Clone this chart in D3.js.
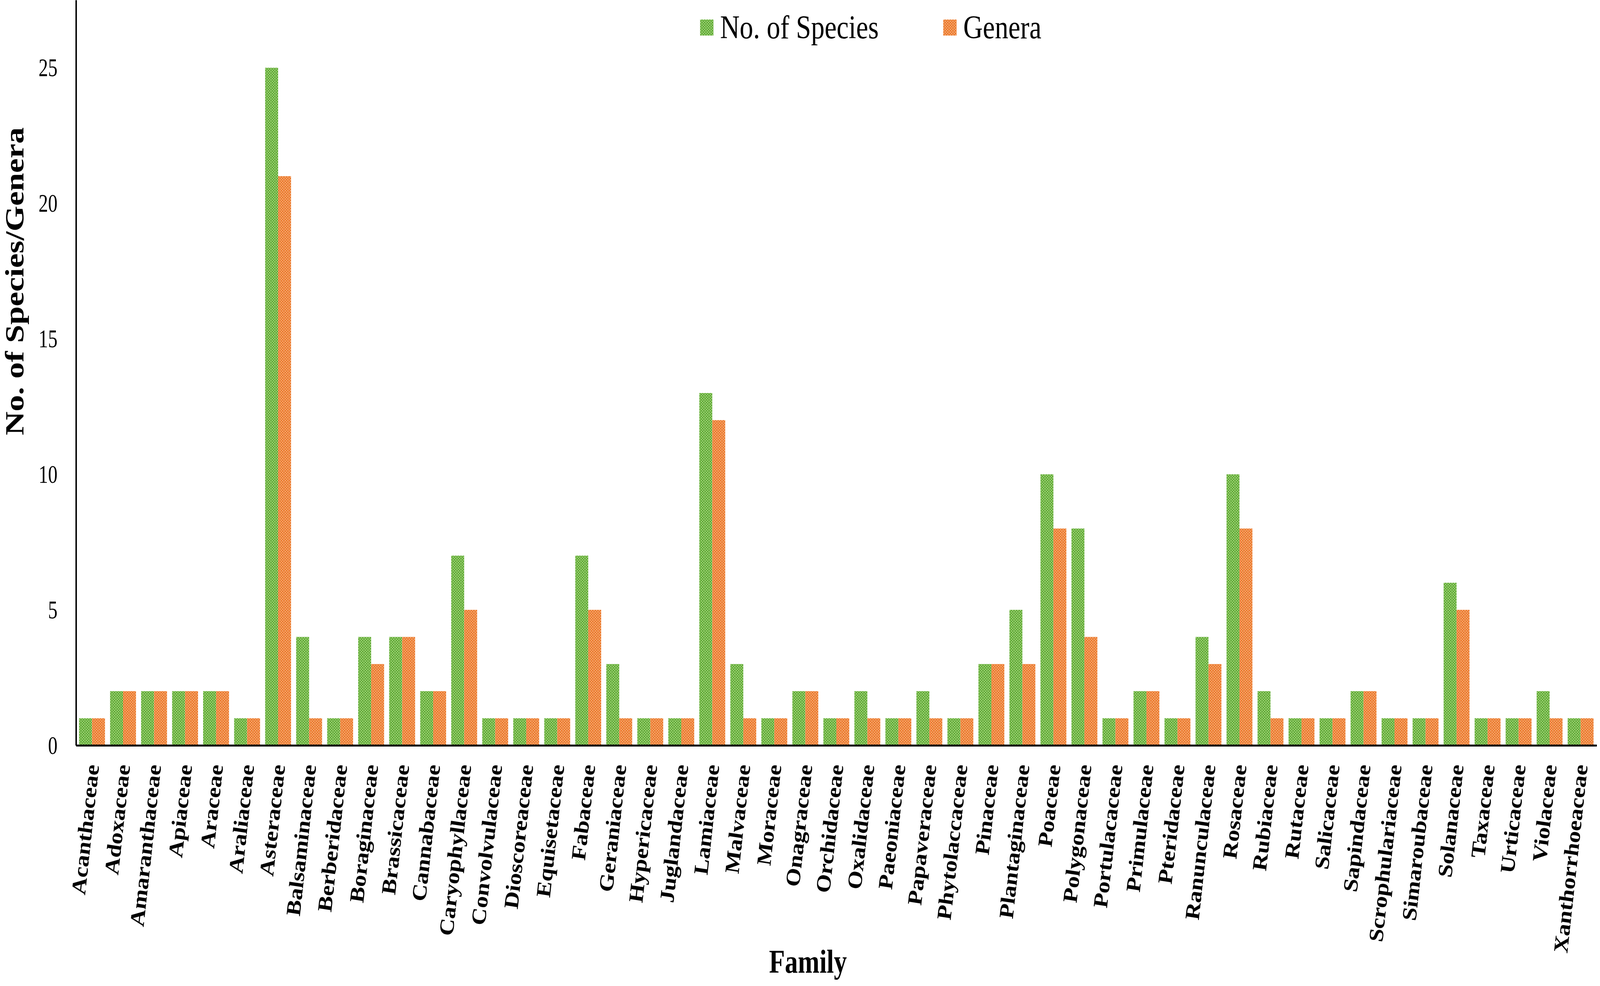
<!DOCTYPE html>
<html>
  <head>
    <meta charset="utf-8">
    <script src="https://d3js.org/d3.v7.min.js"></script>
    <style>
      html, body { margin: 0; padding: 0; background: #fff; overflow: hidden; }
      svg { display: block; }
      text { font-family: "Liberation Serif", "Times New Roman", serif; fill: #000; }
    </style>
  </head>
<body>
  <script type="text/javascript">
    "use strict";
    // chart data
    var families = ["Acanthaceae", "Adoxaceae", "Amaranthaceae", "Apiaceae", "Araceae",
      "Araliaceae", "Asteraceae", "Balsaminaceae", "Berberidaceae", "Boraginaceae",
      "Brassicaceae", "Cannabaceae", "Caryophyllaceae", "Convolvulaceae", "Dioscoreaceae",
      "Equisetaceae", "Fabaceae", "Geraniaceae", "Hypericaceae", "Juglandaceae",
      "Lamiaceae", "Malvaceae", "Moraceae", "Onagraceae", "Orchidaceae",
      "Oxalidaceae", "Paeoniaceae", "Papaveraceae", "Phytolaccaceae", "Pinaceae",
      "Plantaginaceae", "Poaceae", "Polygonaceae", "Portulacaceae", "Primulaceae",
      "Pteridaceae", "Ranunculaceae", "Rosaceae", "Rubiaceae", "Rutaceae",
      "Salicaceae", "Sapindaceae", "Scrophulariaceae", "Simaroubaceae", "Solanaceae",
      "Taxaceae", "Urticaceae", "Violaceae", "Xanthorrhoeaceae"];
    var species = [1, 2, 2, 2, 2, 1, 25, 4, 1, 4, 4, 2, 7, 1, 1, 1, 7, 3, 1, 1,
      13, 3, 1, 2, 1, 2, 1, 2, 1, 3, 5, 10, 8, 1, 2, 1, 4, 10, 2, 1,
      1, 2, 1, 1, 6, 1, 1, 2, 1];
    var genera = [1, 2, 2, 2, 2, 1, 21, 1, 1, 3, 4, 2, 5, 1, 1, 1, 5, 1, 1, 1,
      12, 1, 1, 2, 1, 1, 1, 1, 1, 3, 3, 8, 4, 1, 2, 1, 3, 8, 1, 1,
      1, 2, 1, 1, 5, 1, 1, 1, 1];
    var seriesNames = ["No. of Species", "Genera"];
    var yTicks = [0, 5, 10, 15, 20, 25];

    var width = 4317, height = 2524;
    var left = 205, right = 4308, base = 1908;

    // viewBox so the drawing always fills the window exactly
    var svg = d3.select("body").append("svg")
        .attr("viewBox", "0 0 " + width + " " + height)
        .attr("preserveAspectRatio", "none")
        .style("width", "100vw")
        .style("height", "100vh");

    /*
      dotted fills like the Excel pattern
    */
    var defs = svg.append("defs");
    var fills = [
      {id: "pat-green", bg: "#62aa39", dot: "#bde895"},
      {id: "pat-orange", bg: "#ec7a2d", dot: "#f8c196"}
    ];
    fills.forEach(function(f) {
      var p = defs.append("pattern")
          .attr("id", f.id)
          .attr("patternUnits", "userSpaceOnUse")
          .attr("width", 7)
          .attr("height", 7);
      p.append("rect").attr("width", 7).attr("height", 7).attr("fill", f.bg);
      p.append("circle").attr("cx", 1.75).attr("cy", 1.75).attr("r", 1.4).attr("fill", f.dot);
      p.append("circle").attr("cx", 5.25).attr("cy", 5.25).attr("r", 1.4).attr("fill", f.dot);
    });

    var x = d3.scaleBand()
        .domain(families)
        .range([left, right])
        .paddingInner(0.165)
        .paddingOuter(0.1);
    var x1 = d3.scaleBand()
        .domain(seriesNames)
        .range([0, x.bandwidth()]);
    var y = d3.scaleLinear()
        .domain([0, 27.5])
        .range([base, 0]);
    var color = d3.scaleOrdinal()
        .domain(seriesNames)
        .range(["url(#pat-green)", "url(#pat-orange)"]);

    var rows = families.map(function(f, i) {
      return {family: f, values: [
        {key: seriesNames[0], value: species[i]},
        {key: seriesNames[1], value: genera[i]}
      ]};
    });

    /*
      bars
    */
    svg.append("g").selectAll("g")
        .data(rows)
        .join("g")
        .attr("transform", function(d) { return "translate(" + x(d.family) + ",0)"; })
      .selectAll("rect")
        .data(function(d) { return d.values; })
        .join("rect")
        .attr("x", function(d) { return x1(d.key); })
        .attr("width", x1.bandwidth())
        .attr("y", function(d) { return y(d.value); })
        .attr("height", function(d) { return y(0) - y(d.value); })
        .attr("fill", function(d) { return color(d.key); });

    /*
      axes
    */
    var yAxis = svg.append("g")
        .attr("transform", "translate(" + left + ",0)")
        .call(d3.axisLeft(y).tickValues(yTicks).tickSize(0).tickPadding(50));
    yAxis.select(".domain").attr("stroke", "#000").attr("stroke-width", 4);
    yAxis.selectAll(".tick text")
        .attr("font-size", 51)
        .attr("font-family", "Liberation Serif")
        .attr("transform", "scale(1,1.3)");

    var xAxis = svg.append("g")
        .attr("transform", "translate(0," + base + ")")
        .call(d3.axisBottom(x).tickSize(0).tickSizeOuter(0));
    xAxis.select(".domain").attr("stroke", "#000").attr("stroke-width", 5);
    xAxis.selectAll(".tick text")
        .attr("x", 0)
        .attr("y", 0)
        .attr("dy", "0.35em")
        .attr("text-anchor", "end")
        .attr("font-size", 55)
        .attr("font-weight", "bold")
        .attr("font-family", "Liberation Serif")
        .attr("transform", "translate(0,49) scale(1,1.12) rotate(-82.7)");

    /*
      axis titles
    */
    svg.append("text")
        .attr("transform", "translate(63,720) scale(1,1.17) rotate(-90)")
        .attr("text-anchor", "middle")
        .attr("font-size", 72)
        .attr("font-weight", "bold")
        .text("No. of Species/Genera");

    svg.append("text")
        .attr("transform", "translate(2180,2490) scale(1,1.2)")
        .attr("text-anchor", "middle")
        .attr("font-size", 70)
        .attr("font-weight", "bold")
        .text("Family");

    /*
      legend
    */
    var legendX = [1889, 2545];
    var legend = svg.append("g").selectAll("g")
        .data(seriesNames)
        .join("g")
        .attr("transform", function(d, i) { return "translate(" + legendX[i] + ",0)"; });
    legend.append("rect")
        .attr("x", 0)
        .attr("y", 50)
        .attr("width", 36)
        .attr("height", 41)
        .attr("fill", function(d) { return color(d); });
    legend.append("text")
        .attr("transform", "translate(54,98) scale(1,1.17)")
        .attr("font-size", 73)
        .text(function(d) { return d; });
  </script>
</body>
</html>
